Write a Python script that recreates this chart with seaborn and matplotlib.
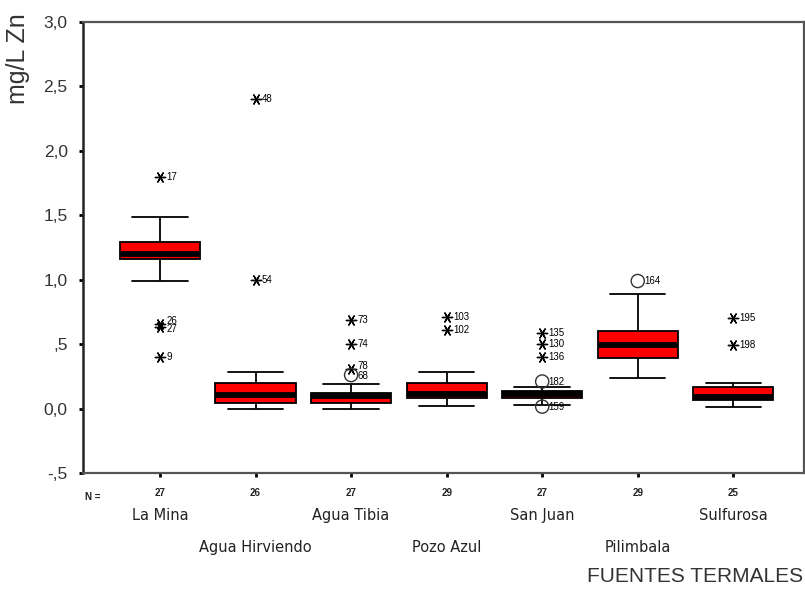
import matplotlib
matplotlib.use("Agg")
import matplotlib.pyplot as plt
import matplotlib.font_manager as fm
import numpy as np
import pandas as pd
import seaborn as sns

# Zinc concentration by hot spring: five-number summaries per site
fuentes = ["La Mina", "Agua Hirviendo", "Agua Tibia", "Pozo Azul",
           "San Juan", "Pilimbala", "Sulfurosa"]
n_muestras = [27, 26, 27, 29, 27, 29, 25]
minimo = [0.99, 0.00, 0.00, 0.02, 0.03, 0.24, 0.01]
cuartil1 = [1.16, 0.04, 0.04, 0.08, 0.08, 0.39, 0.07]
mediana = [1.20, 0.105, 0.10, 0.11, 0.11, 0.49, 0.09]
cuartil3 = [1.29, 0.20, 0.12, 0.20, 0.14, 0.60, 0.17]
maximo = [1.49, 0.28, 0.19, 0.28, 0.165, 0.89, 0.20]

# extreme values (asterisks) and outliers (circles), with case numbers
ext_fuente = ["La Mina", "La Mina", "La Mina", "La Mina",
              "Agua Hirviendo", "Agua Hirviendo",
              "Agua Tibia", "Agua Tibia", "Agua Tibia",
              "Pozo Azul", "Pozo Azul",
              "San Juan", "San Juan", "San Juan",
              "Sulfurosa", "Sulfurosa"]
ext_valor = [1.80, 0.66, 0.63, 0.40,
             2.40, 1.00,
             0.69, 0.50, 0.31,
             0.71, 0.61,
             0.59, 0.50, 0.40,
             0.70, 0.49]
ext_caso = ["17", "26", "27", "9",
            "48", "54",
            "73", "74", "78",
            "103", "102",
            "135", "130", "136",
            "195", "198"]

atip_fuente = ["Agua Tibia", "San Juan", "San Juan", "Pilimbala"]
atip_valor = [0.26, 0.21, 0.015, 0.99]
atip_caso = ["68", "182", "159", "164"]

y_ticks = [-0.5, 0.0, 0.5, 1.0, 1.5, 2.0, 2.5, 3.0]
y_ticklabels = ["-,5", "0,0", ",5", "1,0", "1,5", "2,0", "2,5", "3,0"]

sns.set_style("white")
installed = {f.name for f in fm.fontManager.ttflist}
narrow = "Liberation Sans Narrow" if "Liberation Sans Narrow" in installed else "Liberation Sans"
plt.rcParams["font.family"] = ["Liberation Sans", "DejaVu Sans"]

# long-format table: the five summary points reproduce each box exactly
rows = []
for f, a, b, c, d, e in zip(fuentes, minimo, cuartil1, mediana, cuartil3, maximo):
    for v in (a, b, c, d, e):
        rows.append({"fuente": f, "zn": v})
df = pd.DataFrame(rows)

fig = plt.figure(figsize=(8.05, 5.92), dpi=100)
ax = fig.add_axes([83 / 805, 1 - 473 / 592, (804 - 83) / 805, (473 - 22) / 592])

box_w = 0.84
sns.boxplot(data=df, x="fuente", y="zn", order=fuentes, ax=ax,
            whis=(0, 100), width=box_w, color="#ff0000", saturation=1,
            linecolor="black", linewidth=1.3, showfliers=False,
            medianprops=dict(color="black", linewidth=4.2, solid_capstyle="butt"))

# widen the whisker caps (seaborn draws them at half the box width)
for ln in ax.lines:
    xd, yd = np.asarray(ln.get_xdata(), float), np.asarray(ln.get_ydata(), float)
    if len(xd) == 2 and yd[0] == yd[1]:
        span = abs(xd[1] - xd[0])
        if 0.3 < span < 0.6:
            c = xd.mean()
            ln.set_xdata([c - 0.29, c + 0.29])

pos = {f: i for i, f in enumerate(fuentes)}
ext = pd.DataFrame({"x": [pos[f] for f in ext_fuente], "zn": ext_valor, "caso": ext_caso})
atip = pd.DataFrame({"x": [pos[f] for f in atip_fuente], "zn": atip_valor, "caso": atip_caso})

sns.scatterplot(data=ext, x="x", y="zn", ax=ax, marker=(6, 2, 90), s=55,
                color="black", linewidth=1.0, zorder=5, legend=False)
sns.scatterplot(data=atip, x="x", y="zn", ax=ax, marker="o", s=90,
                facecolor="none", edgecolor="#333333", linewidth=1.0,
                zorder=5, legend=False)

# small vertical nudges for labels of nearly coincident cases
nudge = {"26": 2.0, "27": -1.5, "78": 2.0, "68": -1.0}
for tbl in (ext, atip):
    for _, r in tbl.iterrows():
        ax.annotate(r["caso"], (r["x"], r["zn"]),
                    xytext=(4.5, nudge.get(r["caso"], 0)),
                    textcoords="offset points", va="center", ha="left",
                    fontsize=7, family=narrow, color="black", zorder=6)

ax.set_xlim(-0.806, 6.74)
ax.set_ylim(-0.5, 3.0)
ax.set_yticks(y_ticks)
ax.set_yticklabels(y_ticklabels, fontsize=12.5, color="#333333")
ax.set_xticks(range(len(fuentes)))
ax.set_xticklabels([str(n) for n in n_muestras], fontsize=7, family=narrow,
                   fontweight="bold", color="#222222")
ax.tick_params(axis="y", direction="out", length=3, width=2, color="black", pad=8, left=True)
ax.tick_params(axis="x", direction="out", length=3, width=2, color="black", pad=8, bottom=True)
ax.set_xlabel("")
ax.set_ylabel("")

for side in ("top", "right", "bottom"):
    ax.spines[side].set_visible(True)
    ax.spines[side].set_color("#555555")
    ax.spines[side].set_linewidth(1.6)
ax.spines["left"].set_color("#222222")
ax.spines["left"].set_linewidth(1.8)

# "N =" prefix and two staggered rows of site names
ax.text(-0.78, -0.054, "N =", transform=ax.get_xaxis_transform(), fontsize=7,
        family=narrow, fontweight="bold", ha="left", va="center", color="#222222")
for i, f in enumerate(fuentes):
    yy = -0.095 if i % 2 == 0 else -0.166
    ax.text(i, yy, f, transform=ax.get_xaxis_transform(), ha="center", va="center",
            fontsize=10.5, family=["DejaVu Sans"], color="#222222")

fig.text(18 / 805, 1 - 13 / 592, "mg/L Zn", rotation=90, ha="center", va="top",
         fontsize=18, color="#333333")
fig.text(803 / 805, 1 - 576 / 592, "FUENTES TERMALES", ha="right", va="center",
         fontsize=15, color="#333333")

fig.savefig("out.png", dpi=100, facecolor="white")
